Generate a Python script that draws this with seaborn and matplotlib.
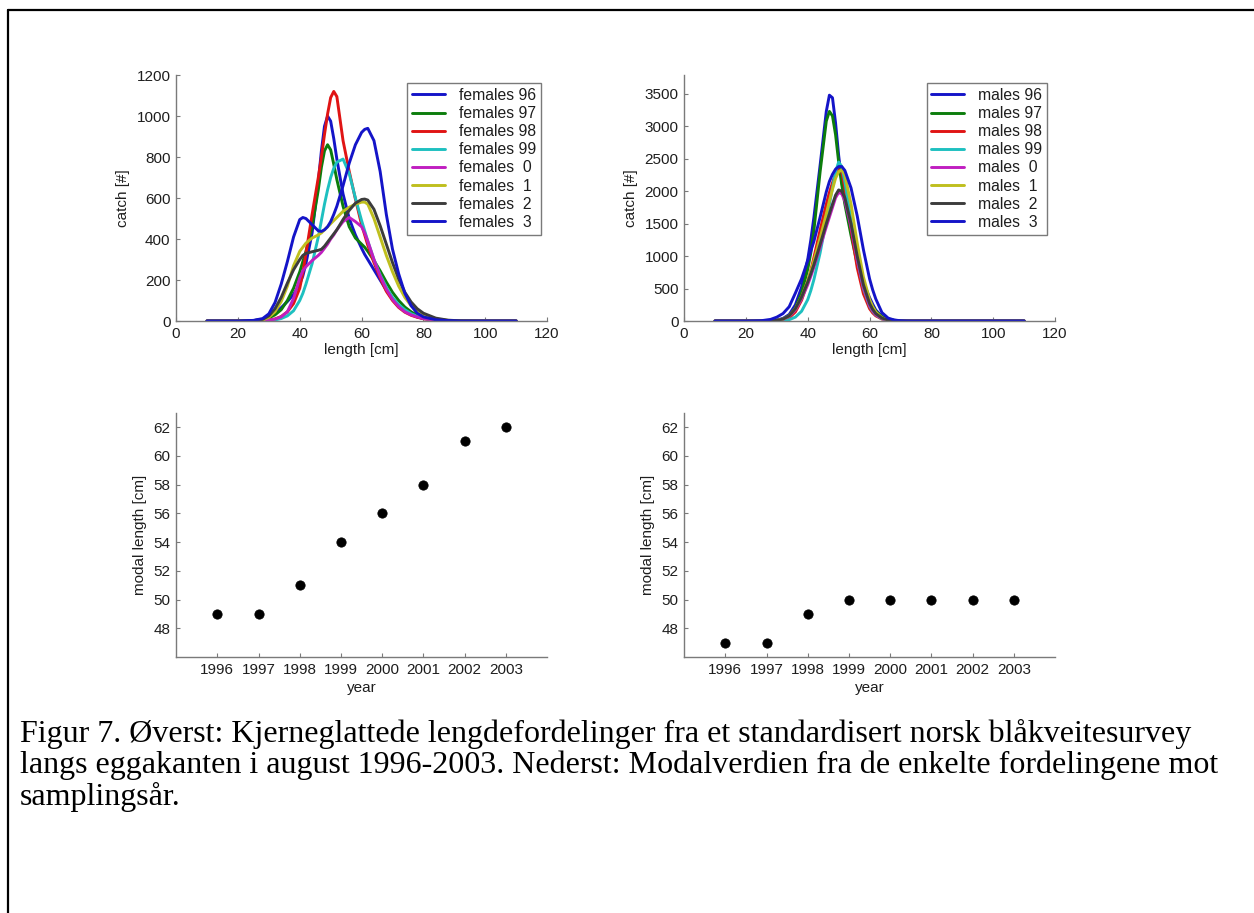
import matplotlib
matplotlib.use("Agg")
import matplotlib.pyplot as plt
from matplotlib.lines import Line2D
import seaborn as sns

# shared length grid (cm) the smoothed curves were read at
length = [10, 20, 25, 28, 30, 32, 34, 36, 38, 40,
          41, 42, 44, 46, 47, 48, 49, 50, 51, 52,
          54, 56, 58, 60, 61, 62, 64, 66, 68, 70,
          72, 74, 76, 78, 80, 84, 88, 92, 100, 110]

# females, catch [#]
fem_96 = [0, 0, 2, 8, 20, 40, 65, 95, 130, 180,
          220, 280, 430, 680, 830, 950, 1000, 975, 890, 790,
          620, 500, 420, 355, 325, 300, 250, 200, 150, 110,
          75, 50, 32, 20, 12, 4, 1, 0, 0, 0]
fem_97 = [0, 0, 1, 5, 15, 30, 55, 100, 160, 240,
          290, 340, 460, 640, 750, 830, 860, 835, 765, 690,
          560, 460, 405, 375, 360, 340, 295, 245, 190, 140,
          100, 68, 45, 28, 17, 6, 2, 0, 0, 0]
fem_98 = [0, 0, 0, 2, 5, 10, 22, 45, 85, 160,
          235, 330, 520, 700, 800, 910, 1010, 1090, 1120, 1095,
          880, 730, 595, 470, 420, 370, 285, 210, 145, 100,
          66, 43, 28, 18, 11, 4, 1, 0, 0, 0]
fem_99 = [0, 0, 0, 0, 2, 5, 12, 25, 50, 100,
          135, 180, 280, 410, 490, 570, 640, 700, 745, 775,
          790, 720, 600, 490, 440, 390, 300, 225, 165, 115,
          80, 55, 36, 23, 14, 5, 1, 0, 0, 0]
fem_00 = [0, 0, 0, 2, 4, 9, 20, 45, 110, 210,
          245, 265, 295, 320, 335, 355, 375, 400, 420, 445,
          485, 505, 485, 460, 430, 390, 300, 220, 155, 105,
          70, 45, 30, 20, 12, 4, 1, 0, 0, 0]
fem_01 = [0, 0, 1, 5, 18, 45, 95, 170, 270, 340,
          360, 380, 405, 420, 430, 445, 460, 475, 490, 505,
          535, 555, 570, 580, 580, 570, 500, 410, 320, 240,
          170, 115, 75, 47, 29, 10, 3, 1, 0, 0]
fem_02 = [0, 0, 2, 8, 25, 60, 115, 185, 250, 300,
          320, 330, 338, 345, 350, 365, 385, 405, 425, 445,
          495, 540, 575, 593, 595, 590, 545, 465, 375, 285,
          205, 140, 93, 60, 38, 14, 4, 1, 0, 0]
fem_03 = [0, 0, 3, 12, 35, 90, 180, 290, 410, 495,
          505, 500, 470, 440, 437, 445, 460, 485, 520, 560,
          660, 770, 860, 920, 935, 940, 880, 730, 520, 350,
          230, 135, 75, 38, 20, 6, 2, 0, 0, 0]

# males, catch [#]
male_96 = [0, 0, 0, 5, 15, 40, 100, 250, 520, 950,
           1250, 1600, 2400, 3230, 3480, 3440, 3050, 2550, 2150, 1850,
           1420, 930, 600, 360, 260, 170, 70, 30, 12, 4,
           1, 0, 0, 0, 0, 0, 0, 0, 0, 0]
male_97 = [0, 0, 0, 3, 10, 30, 80, 200, 430, 800,
           1050, 1400, 2300, 3080, 3230, 3160, 2870, 2450, 2100, 1800,
           1320, 880, 540, 300, 220, 150, 65, 25, 9, 3,
           1, 0, 0, 0, 0, 0, 0, 0, 0, 0]
male_98 = [0, 0, 0, 2, 6, 18, 50, 140, 320, 600,
           780, 980, 1400, 1800, 1980, 2130, 2260, 2330, 2300, 2050,
           1420, 820, 420, 190, 125, 80, 30, 10, 3, 1,
           0, 0, 0, 0, 0, 0, 0, 0, 0, 0]
male_99 = [0, 0, 0, 0, 2, 6, 20, 60, 150, 330,
           470, 640, 1050, 1550, 1800, 2050, 2300, 2450, 2380, 2150,
           1550, 950, 500, 230, 150, 95, 35, 12, 4, 1,
           0, 0, 0, 0, 0, 0, 0, 0, 0, 0]
male_00 = [0, 0, 0, 2, 8, 25, 70, 170, 340, 560,
           690, 830, 1140, 1450, 1600, 1750, 1900, 1980, 1960, 1850,
           1450, 950, 520, 240, 160, 100, 38, 13, 4, 1,
           0, 0, 0, 0, 0, 0, 0, 0, 0, 0]
male_01 = [0, 0, 0, 3, 10, 30, 80, 190, 370, 620,
           770, 930, 1280, 1650, 1850, 2030, 2200, 2300, 2330, 2250,
           1800, 1200, 680, 330, 220, 140, 50, 16, 5, 1,
           0, 0, 0, 0, 0, 0, 0, 0, 0, 0]
male_02 = [0, 0, 0, 3, 10, 30, 80, 190, 370, 600,
           730, 870, 1180, 1500, 1650, 1800, 1940, 2020, 2000, 1900,
           1500, 1000, 560, 270, 180, 115, 45, 15, 5, 1,
           0, 0, 0, 0, 0, 0, 0, 0, 0, 0]
male_03 = [0, 0, 5, 25, 60, 115, 220, 430, 650, 930,
           1080, 1230, 1600, 1990, 2150, 2260, 2340, 2380, 2380, 2320,
           2050, 1620, 1100, 650, 480, 340, 130, 45, 15, 5,
           1, 0, 0, 0, 0, 0, 0, 0, 0, 0]

year_codes = ["96", "97", "98", "99", " 0", " 1", " 2", " 3"]
years = [1996, 1997, 1998, 1999, 2000, 2001, 2002, 2003]
modal_females = [49, 49, 51, 54, 56, 58, 61, 62]
modal_males = [47, 47, 49, 50, 50, 50, 50, 50]

# old matlab colour order
colors = ["#1414c8", "#0c7d0c", "#e01414", "#1ec0c0",
          "#c01ec0", "#bfbf1e", "#3c3c3c", "#1414c8"]

caption = ("Figur 7. Øverst: Kjerneglattede lengdefordelinger fra et standardisert norsk blåkveitesurvey\n"
           "langs eggakanten i august 1996-2003. Nederst: Modalverdien fra de enkelte fordelingene mot\n"
           "samplingsår.")

sns.set_style("ticks")
plt.rcParams['font.family'] = ['Liberation Sans', 'DejaVu Sans']
plt.rcParams['xtick.direction'] = 'in'
plt.rcParams['ytick.direction'] = 'in'

axis_grey = "#7a7a7a"
text_col = "#1e1e1e"

fig = plt.figure(figsize=(12.54, 9.13), dpi=100)
ax1 = fig.add_axes([0.1404, 0.6484, 0.2959, 0.2694])
ax2 = fig.add_axes([0.5455, 0.6484, 0.2959, 0.2694])
ax3 = fig.add_axes([0.1404, 0.2804, 0.2959, 0.2676])
ax4 = fig.add_axes([0.5455, 0.2804, 0.2959, 0.2676])


def style_axis(ax):
    sns.despine(ax=ax)
    for s in ["left", "bottom"]:
        ax.spines[s].set_color(axis_grey)
        ax.spines[s].set_linewidth(1.0)
    ax.tick_params(length=3, width=0.8, color=axis_grey, labelsize=11,
                   labelcolor=text_col, pad=4)


# top panels: smoothed length distributions
for ax, series, sex, ymax, yticks in [
        (ax1, [fem_96, fem_97, fem_98, fem_99, fem_00, fem_01, fem_02, fem_03],
         "females", 1200, range(0, 1201, 200)),
        (ax2, [male_96, male_97, male_98, male_99, male_00, male_01, male_02, male_03],
         "males", 3790, range(0, 3501, 500))]:
    for vals, code, col in zip(series, year_codes, colors):
        sns.lineplot(x=length, y=vals, color=col, lw=2.1, label=f"{sex} {code}", ax=ax)
    ax.set_xlim(0, 120)
    ax.set_ylim(0, ymax)
    ax.set_xticks(range(0, 121, 20))
    ax.set_yticks(list(yticks))
    ax.set_xlabel("length [cm]", fontsize=11, color=text_col, labelpad=2)
    ax.set_ylabel("catch [#]", fontsize=11, color=text_col, labelpad=5)
    style_axis(ax)

leg_kw = dict(loc="upper right", fontsize=11.3, frameon=True, fancybox=False,
              handlelength=2.1, handletextpad=0.9, labelspacing=0.2,
              borderpad=0.3, borderaxespad=0)
lg1 = ax1.legend(bbox_to_anchor=(0.984, 0.967), **leg_kw)
lg2 = ax2.legend(bbox_to_anchor=(0.979, 0.967), **leg_kw)
for lg in (lg1, lg2):
    lg.get_frame().set_edgecolor(axis_grey)
    lg.get_frame().set_linewidth(1.0)
    lg.get_frame().set_alpha(1)
    for t in lg.get_texts():
        t.set_color(text_col)

# bottom panels: modal length per year
for ax, modal in [(ax3, modal_females), (ax4, modal_males)]:
    sns.scatterplot(x=years, y=modal, color="black", s=45, edgecolor="black", ax=ax)
    ax.set_xlim(1995, 2004)
    ax.set_ylim(46, 63)
    ax.set_xticks(years)
    ax.set_xticklabels([str(y) for y in years])
    ax.set_yticks(range(48, 63, 2))
    ax.set_xlabel("year", fontsize=11, color=text_col, labelpad=3)
    ax.set_ylabel("modal length [cm]", fontsize=11, color=text_col, labelpad=5)
    style_axis(ax)

fig.text(0.016, 0.212, caption, ha="left", va="top", fontsize=23,
         family="Liberation Serif", linespacing=1.06, color="black")

# page frame (left and top edge)
fig.add_artist(Line2D([7.5 / 1254, 7.5 / 1254], [0, 1 - 10.5 / 913],
                      transform=fig.transFigure, color="black", lw=1.6))
fig.add_artist(Line2D([7.5 / 1254, 1], [1 - 10.5 / 913, 1 - 10.5 / 913],
                      transform=fig.transFigure, color="black", lw=1.6))

plt.savefig("out.png", dpi=100)
